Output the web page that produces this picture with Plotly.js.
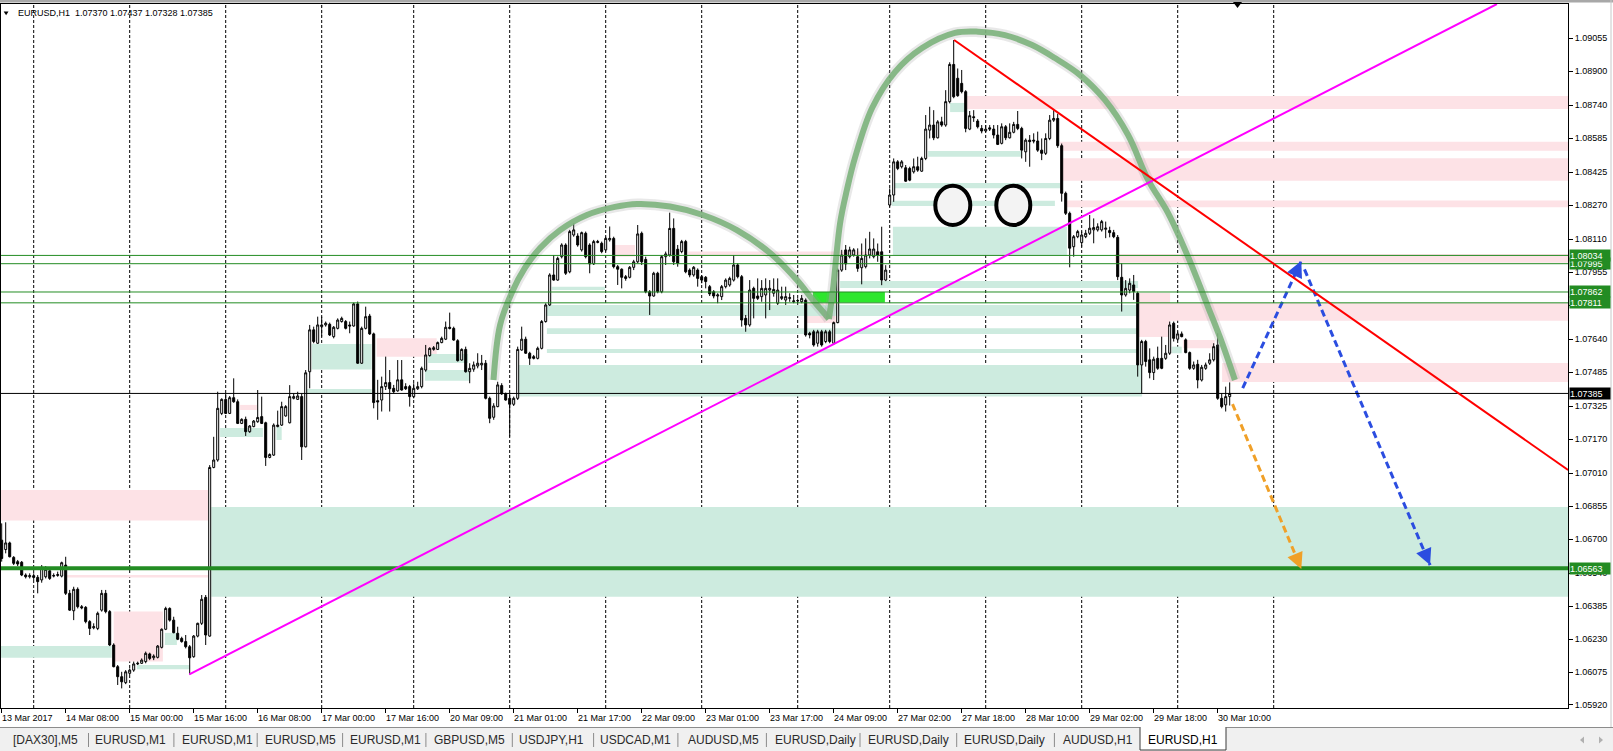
<!DOCTYPE html>
<html><head><meta charset="utf-8">
<script src="https://cdn.plot.ly/plotly-3.0.1.min.js"></script>
<style>html,body{margin:0;padding:0;background:#fff;overflow:hidden}#chart{width:1613px;height:751px}</style>
</head><body><div id="chart"></div>
<script>
// ---------------- DATA (EURUSD, H1) ----------------
const openP = [
1.06695,1.06651,1.06682,1.06614,1.06594,1.06591,1.06531,1.06523,1.06528,1.06520,
1.06508,1.06523,1.06551,1.06526,1.06529,1.06526,1.06578,1.06445,1.06363,1.06464,
1.06382,1.06379,1.06312,1.06283,1.06280,1.06366,1.06445,1.06359,1.06202,1.06100,
1.06053,1.06025,1.06069,1.06084,1.06113,1.06116,1.06124,1.06160,1.06142,1.06144,
1.06191,1.06276,1.06374,1.06319,1.06257,1.06233,1.06218,1.06194,1.06147,1.06244,
1.06304,1.06426,1.06244,1.07037,1.07072,1.07291,1.07357,1.07291,1.07365,1.07346,
1.07244,1.07263,1.07205,1.07229,1.07252,1.07276,1.07247,1.07084,1.07095,1.07229,
1.07236,1.07279,1.07247,1.07362,1.07357,1.07370,1.07134,1.07487,1.07684,1.07621,
1.07699,1.07707,1.07710,1.07652,1.07691,1.07723,1.07723,1.07707,1.07702,1.07806,
1.07527,1.07691,1.07749,1.07665,1.07351,1.07354,1.07417,1.07436,1.07409,1.07397,
1.07449,1.07417,1.07417,1.07370,1.07407,1.07417,1.07495,1.07563,1.07592,1.07592,
1.07624,1.07640,1.07696,1.07691,1.07633,1.07542,1.07592,1.07487,1.07499,1.07514,
1.07519,1.07527,1.07362,1.07273,1.07323,1.07422,1.07383,1.07362,1.07334,1.07362,
1.07589,1.07640,1.07574,1.07558,1.07550,1.07597,1.07723,1.07801,1.07942,1.07918,
1.08028,1.08083,1.07957,1.08130,1.08125,1.08060,1.08138,1.08083,1.07994,1.08099,
1.08091,1.08060,1.08107,1.08114,1.07981,1.07969,1.07934,1.07931,1.07978,1.08004,
1.08138,1.08015,1.07863,1.07843,1.07950,1.07863,1.08028,1.08036,1.08161,1.08063,
1.08052,1.08099,1.07965,1.07942,1.07965,1.07934,1.07931,1.07887,1.07863,1.07843,
1.07840,1.07887,1.07895,1.07918,1.07989,1.07934,1.07738,1.07707,1.07879,1.07843,
1.07840,1.07848,1.07871,1.07856,1.07809,1.07832,1.07824,1.07832,1.07816,1.07820,
1.07816,1.07824,1.07668,1.07675,1.07621,1.07675,1.07629,1.07675,1.07621,1.07718,
1.07965,1.08060,1.08028,1.08036,1.08028,1.07976,1.07981,1.08036,1.08028,1.08051,
1.08051,1.07918,1.08271,1.08318,1.08474,1.08451,1.08446,1.08443,1.08427,1.08451,
1.08430,1.08490,1.08623,1.08647,1.08587,1.08662,1.08647,1.08757,1.08932,1.08867,
1.08843,1.08804,1.08628,1.08686,1.08666,1.08631,1.08619,1.08634,1.08628,1.08600,
1.08561,1.08639,1.08587,1.08613,1.08650,1.08631,1.08521,1.08576,1.08576,1.08572,
1.08529,1.08514,1.08584,1.08670,1.08678,1.08550,1.08326,1.08232,1.08075,1.08122,
1.08094,1.08122,1.08138,1.08154,1.08154,1.08154,1.08157,1.08151,1.08141,1.08119,
1.07931,1.07848,1.07871,1.07895,1.07856,1.07519,1.07629,1.07543,1.07483,1.07550,
1.07550,1.07550,1.07574,1.07715,1.07640,1.07665,1.07637,1.07577,1.07503,1.07522,
1.07448,1.07503,1.07527,1.07543,1.07613,1.07362,1.07331,1.07370];
const highP = [
1.06774,1.06779,1.06688,1.06620,1.06602,1.06597,1.06539,1.06539,1.06539,1.06531,
1.06578,1.06573,1.06558,1.06539,1.06547,1.06594,1.06617,1.06461,1.06476,1.06473,
1.06390,1.06385,1.06319,1.06304,1.06359,1.06461,1.06461,1.06366,1.06210,1.06108,
1.06076,1.06084,1.06092,1.06124,1.06124,1.06139,1.06171,1.06166,1.06158,1.06202,
1.06280,1.06382,1.06379,1.06335,1.06288,1.06241,1.06249,1.06202,1.06249,1.06307,
1.06437,1.06437,1.07048,1.07181,1.07393,1.07362,1.07385,1.07373,1.07456,1.07357,
1.07268,1.07276,1.07236,1.07260,1.07401,1.07370,1.07252,1.07103,1.07244,1.07304,
1.07346,1.07330,1.07424,1.07385,1.07393,1.07385,1.07495,1.07707,1.07699,1.07746,
1.07746,1.07723,1.07718,1.07702,1.07738,1.07746,1.07730,1.07723,1.07812,1.07817,
1.07699,1.07793,1.07759,1.07671,1.07449,1.07464,1.07558,1.07495,1.07425,1.07542,
1.07542,1.07433,1.07425,1.07433,1.07440,1.07511,1.07613,1.07602,1.07608,1.07629,
1.07652,1.07723,1.07765,1.07699,1.07640,1.07597,1.07605,1.07527,1.07535,1.07574,
1.07566,1.07542,1.07370,1.07339,1.07440,1.07433,1.07389,1.07383,1.07370,1.07605,
1.07699,1.07652,1.07581,1.07566,1.07605,1.07730,1.07809,1.07950,1.08036,1.08028,
1.08091,1.08091,1.08154,1.08185,1.08138,1.08146,1.08146,1.08091,1.08107,1.08107,
1.08099,1.08122,1.08170,1.08122,1.07989,1.07973,1.07942,1.07984,1.08013,1.08177,
1.08146,1.08028,1.07871,1.07957,1.07957,1.08036,1.08052,1.08235,1.08208,1.08083,
1.08107,1.08107,1.07973,1.07984,1.07973,1.07942,1.07937,1.07895,1.07871,1.07856,
1.07895,1.07926,1.07934,1.08036,1.07997,1.07942,1.07754,1.07918,1.07887,1.07926,
1.07918,1.07926,1.07918,1.07926,1.07926,1.07887,1.07887,1.07856,1.07848,1.07832,
1.07848,1.07832,1.07675,1.07684,1.07684,1.07684,1.07684,1.07684,1.07723,1.07973,
1.08060,1.08083,1.08075,1.08068,1.08067,1.08090,1.08114,1.08145,1.08114,1.08090,
1.08169,1.07988,1.08349,1.08490,1.08482,1.08482,1.08459,1.08451,1.08490,1.08498,
1.08498,1.08694,1.08733,1.08717,1.08670,1.08686,1.08811,1.08942,1.09047,1.08913,
1.08906,1.08811,1.08713,1.08717,1.08675,1.08647,1.08647,1.08647,1.08647,1.08647,
1.08655,1.08647,1.08655,1.08662,1.08713,1.08639,1.08584,1.08600,1.08608,1.08616,
1.08584,1.08608,1.08694,1.08717,1.08700,1.08560,1.08334,1.08240,1.08130,1.08154,
1.08146,1.08154,1.08224,1.08208,1.08185,1.08201,1.08193,1.08169,1.08154,1.08130,
1.07997,1.07918,1.07926,1.07942,1.07864,1.07637,1.07637,1.07597,1.07558,1.07605,
1.07652,1.07613,1.07723,1.07723,1.07676,1.07676,1.07644,1.07582,1.07535,1.07543,
1.07519,1.07530,1.07574,1.07621,1.07668,1.07386,1.07417,1.07437];
const lowP = [
1.06594,1.06633,1.06614,1.06578,1.06573,1.06526,1.06515,1.06515,1.06508,1.06445,
1.06495,1.06515,1.06508,1.06520,1.06523,1.06520,1.06437,1.06363,1.06319,1.06374,
1.06370,1.06304,1.06249,1.06276,1.06272,1.06359,1.06351,1.06197,1.06097,1.06014,
1.05998,1.06018,1.06061,1.06076,1.06108,1.06113,1.06116,1.06131,1.06131,1.06139,
1.06186,1.06272,1.06312,1.06257,1.06225,1.06213,1.06186,1.06064,1.06142,1.06238,
1.06296,1.06202,1.06241,1.07033,1.07064,1.07283,1.07288,1.07288,1.07341,1.07241,
1.07241,1.07185,1.07200,1.07226,1.07247,1.07241,1.07044,1.07080,1.07091,1.07226,
1.07232,1.07276,1.07244,1.07357,1.07354,1.07072,1.07131,1.07409,1.07621,1.07618,
1.07652,1.07699,1.07655,1.07644,1.07686,1.07718,1.07686,1.07668,1.07699,1.07524,
1.07524,1.07686,1.07660,1.07315,1.07261,1.07300,1.07401,1.07300,1.07385,1.07393,
1.07398,1.07401,1.07323,1.07362,1.07401,1.07409,1.07487,1.07558,1.07586,1.07589,
1.07621,1.07636,1.07686,1.07633,1.07535,1.07539,1.07483,1.07433,1.07487,1.07503,
1.07495,1.07357,1.07245,1.07261,1.07320,1.07378,1.07351,1.07182,1.07326,1.07354,
1.07586,1.07571,1.07519,1.07545,1.07545,1.07592,1.07718,1.07796,1.07915,1.07915,
1.08020,1.07942,1.07950,1.08122,1.08075,1.08052,1.08020,1.07950,1.07989,1.08091,
1.08044,1.08052,1.08099,1.07973,1.07895,1.07879,1.07915,1.07926,1.07965,1.07997,
1.07989,1.07856,1.07754,1.07840,1.07856,1.07856,1.07989,1.08028,1.07989,1.07981,
1.08044,1.07950,1.07931,1.07934,1.07887,1.07903,1.07879,1.07843,1.07832,1.07809,
1.07824,1.07879,1.07887,1.07911,1.07926,1.07699,1.07675,1.07699,1.07738,1.07824,
1.07816,1.07738,1.07777,1.07840,1.07801,1.07824,1.07801,1.07816,1.07809,1.07801,
1.07809,1.07652,1.07644,1.07605,1.07605,1.07605,1.07621,1.07621,1.07613,1.07715,
1.07957,1.07965,1.08020,1.08028,1.07957,1.07898,1.07973,1.08020,1.08020,1.08004,
1.07894,1.07913,1.08263,1.08286,1.08435,1.08443,1.08380,1.08383,1.08419,1.08427,
1.08427,1.08482,1.08584,1.08576,1.08584,1.08639,1.08639,1.08749,1.08773,1.08780,
1.08796,1.08613,1.08623,1.08662,1.08631,1.08608,1.08613,1.08619,1.08584,1.08553,
1.08556,1.08576,1.08584,1.08608,1.08623,1.08490,1.08474,1.08451,1.08561,1.08521,
1.08482,1.08506,1.08576,1.08662,1.08540,1.08287,1.08224,1.07978,1.08028,1.08115,
1.08075,1.08115,1.08130,1.08091,1.08146,1.08146,1.08115,1.08119,1.08115,1.07918,
1.07770,1.07840,1.07856,1.07825,1.07464,1.07386,1.07511,1.07456,1.07448,1.07496,
1.07499,1.07543,1.07566,1.07629,1.07634,1.07649,1.07574,1.07496,1.07496,1.07409,
1.07441,1.07496,1.07519,1.07535,1.07355,1.07315,1.07300,1.07328];
const closeP = [
1.06609,1.06682,1.06617,1.06586,1.06583,1.06531,1.06523,1.06528,1.06520,1.06500,
1.06567,1.06558,1.06515,1.06529,1.06533,1.06589,1.06445,1.06366,1.06464,1.06382,
1.06377,1.06312,1.06280,1.06288,1.06351,1.06445,1.06359,1.06202,1.06100,1.06053,
1.06029,1.06076,1.06084,1.06113,1.06116,1.06131,1.06163,1.06139,1.06150,1.06197,
1.06276,1.06374,1.06319,1.06260,1.06229,1.06218,1.06194,1.06142,1.06244,1.06304,
1.06417,1.06249,1.07037,1.07072,1.07315,1.07357,1.07291,1.07365,1.07346,1.07244,
1.07263,1.07205,1.07232,1.07255,1.07272,1.07244,1.07084,1.07098,1.07236,1.07236,
1.07323,1.07323,1.07370,1.07370,1.07373,1.07134,1.07482,1.07684,1.07629,1.07707,
1.07707,1.07715,1.07660,1.07696,1.07730,1.07738,1.07691,1.07702,1.07806,1.07527,
1.07691,1.07746,1.07665,1.07342,1.07345,1.07417,1.07436,1.07407,1.07393,1.07449,
1.07401,1.07407,1.07370,1.07409,1.07417,1.07503,1.07566,1.07597,1.07600,1.07624,
1.07644,1.07696,1.07691,1.07636,1.07539,1.07592,1.07487,1.07503,1.07519,1.07527,
1.07527,1.07362,1.07268,1.07326,1.07425,1.07383,1.07354,1.07334,1.07362,1.07592,
1.07640,1.07574,1.07550,1.07550,1.07597,1.07723,1.07801,1.07942,1.07918,1.08020,
1.08083,1.07950,1.08146,1.08154,1.08083,1.08141,1.08028,1.07994,1.08099,1.08096,
1.08052,1.08114,1.08114,1.07981,1.07969,1.07931,1.07926,1.07978,1.08004,1.08135,
1.08004,1.07863,1.07843,1.07950,1.07863,1.08028,1.08041,1.08161,1.08004,1.07997,
1.08099,1.07957,1.07942,1.07978,1.07926,1.07918,1.07911,1.07853,1.07843,1.07848,
1.07887,1.07918,1.07926,1.07989,1.07934,1.07730,1.07707,1.07871,1.07832,1.07832,
1.07879,1.07879,1.07879,1.07874,1.07871,1.07840,1.07840,1.07835,1.07820,1.07822,
1.07832,1.07660,1.07660,1.07613,1.07675,1.07613,1.07675,1.07629,1.07718,1.07965,
1.08036,1.07994,1.08060,1.08060,1.07973,1.08020,1.08036,1.08064,1.08064,1.08036,
1.07918,1.07965,1.08318,1.08474,1.08443,1.08474,1.08383,1.08388,1.08451,1.08435,
1.08490,1.08628,1.08647,1.08587,1.08662,1.08647,1.08757,1.08932,1.08780,1.08785,
1.08804,1.08631,1.08691,1.08682,1.08639,1.08619,1.08628,1.08628,1.08600,1.08556,
1.08639,1.08587,1.08613,1.08650,1.08631,1.08529,1.08576,1.08569,1.08572,1.08529,
1.08514,1.08584,1.08670,1.08678,1.08550,1.08326,1.08232,1.08068,1.08122,1.08146,
1.08130,1.08138,1.08162,1.08165,1.08169,1.08193,1.08162,1.08141,1.08122,1.07934,
1.07848,1.07879,1.07903,1.07864,1.07519,1.07629,1.07535,1.07483,1.07546,1.07503,
1.07503,1.07574,1.07707,1.07644,1.07665,1.07652,1.07577,1.07503,1.07519,1.07448,
1.07508,1.07519,1.07543,1.07605,1.07362,1.07323,1.07370,1.07385];

const timeLabels = ["13 Mar 2017","14 Mar 08:00","15 Mar 00:00","15 Mar 16:00","16 Mar 08:00",
  "17 Mar 00:00","17 Mar 16:00","20 Mar 09:00","21 Mar 01:00","21 Mar 17:00","22 Mar 09:00",
  "23 Mar 01:00","23 Mar 17:00","24 Mar 09:00","27 Mar 02:00","27 Mar 18:00","28 Mar 10:00",
  "29 Mar 02:00","29 Mar 18:00","30 Mar 10:00"];
const barsPerLabel = 16;
const daySeparatorBars = [8,32,56,80,103,127,151,175,199,222,246,270,294,318];
const priceTicks = [1.09055,1.08900,1.08740,1.08585,1.08425,1.08270,1.08110,1.07955,1.07800,
  1.07640,1.07485,1.07325,1.07170,1.07010,1.06855,1.06700,1.06540,1.06385,1.06230,1.06075,1.05920];
const headerText = "EURUSD,H1\u00a0\u00a01.07370 1.07437 1.07328 1.07385";

// horizontal levels
const thinGreenLevels = [1.08034, 1.07995, 1.07862, 1.07811];
const supportLevel = 1.06563;
const priceLevel = 1.07385;

// supply / demand zones: [startBar, endBar (null = to the chart edge), lowPrice, highPrice]
const supplyZones = [
  [null,51.6,1.06787,1.06931],[28,40.3,1.06124,1.06359],[16.3,51.6,1.06520,1.06531],
  [59.6,63.8,1.07307,1.07331],[93.75,108.75,1.07558,1.07644],[153.3,158.3,1.08028,1.08083],
  [171.6,219.6,1.08031,1.08052],[201.25,208.75,1.07716,1.07810],[241.3,null,1.08722,1.08784],
  [264.6,null,1.08526,1.08569],[265.1,null,1.08385,1.08491],[266.3,null,1.08260,1.08292],
  [278.3,null,1.08000,1.08041],[284.1,null,1.07727,1.07810],[284.1,292.1,1.07650,1.07857],
  [295.3,303.3,1.07597,1.07636],[305.1,null,1.07439,1.07528]];
const demandZones = [
  [52.4,null,1.06429,1.06851],[null,27.5,1.06142,1.06197],[33.8,47.1,1.06088,1.06108],
  [40.8,43.8,1.06202,1.06259],[54.6,65.3,1.07180,1.07222],[68.7,70,1.07166,1.07228],
  [76.3,92.5,1.07382,1.07406],[77.5,92.5,1.07498,1.07617],[106.6,116.6,1.07528,1.07570],
  [105.8,117.1,1.07445,1.07495],[129,285.1,1.07370,1.07519],[135.8,284.1,1.07749,1.07801],
  [136.3,284.1,1.07664,1.07692],[136.3,284.1,1.07575,1.07594],[137.5,150.8,1.07871,1.07887],
  [209.6,284.1,1.07881,1.07914],[222.8,266.3,1.08036,1.08169],[222.5,263.3,1.08266,1.08291],
  [223.3,264.6,1.08350,1.08375],[231.6,255.1,1.08498,1.08525],[237.1,240.8,1.08708,1.08751],
  [292.5,295,1.07574,1.07605]];
const activeZone = [202.8,220.8,1.07813,1.07862];

// trend lines [bar, price] start -> end
const magentaLine = [[46.9,1.06064],[373.8,1.09216]];
const redLine = [[238.1,1.09047],[391.6,1.07025]];

// hand-drawn arcs (bar, price)
const arc1Bars = [122.95,124.6,127.6,130.8,134.6,139.6,146.3,153.3,158.8,167.1,175.3,183.8,192.1,198.8,202.8,205.6,206.8];
const arc1Prices = [1.07448,1.07707,1.07862,1.07975,1.08069,1.08153,1.08224,1.08262,1.08276,1.08264,1.08224,1.08153,1.08045,1.07918,1.07824,1.07763,1.07735];
const arc2Bars = [206.8,207.8,209.6,211.3,213.3,217.6,223.3,230.1,238.3,244.1,250.8,257.6,263.3,269.6,275.8,281.6,286.6,291.6,296.6,301.6,305.1,308.3];
const arc2Prices = [1.07735,1.07871,1.08186,1.08342,1.08492,1.08727,1.08896,1.09009,1.09080,1.09086,1.09070,1.09023,1.08962,1.08882,1.08765,1.08600,1.08389,1.08233,1.08027,1.07791,1.07622,1.07448];

// eyes [bar0, bar1, price0, price1]
const eyes = [[233.4,242.15,1.08177,1.08362],[248.65,257.15,1.08177,1.08362]];

// projected moves: [[bar, price] start, end]
const blueUp = [[310.25,1.07410],[324.9,1.08008]];
const blueDown = [[325.7,1.07968],[357.1,1.06578]];
const orangeDown = [[307.7,1.07335],[324.9,1.06559]];

// tabs
const tabNames = ["[DAX30],M5","EURUSD,M1","EURUSD,M1","EURUSD,M5","EURUSD,M1","GBPUSD,M5",
  "USDJPY,H1","USDCAD,M1","AUDUSD,M5","EURUSD,Daily","EURUSD,Daily","EURUSD,Daily","AUDUSD,H1"];
const activeTab = "EURUSD,H1";

// ---------------- LAYOUT GEOMETRY ----------------
const W = 1613, H = 751;
const M = {l:1, r:45, t:4, b:43};
const PW = W - M.l - M.r, PH = H - M.t - M.b;
const X = px => (px - M.l) / PW;
const Y = py => (H - M.b - py) / PH;
const xRange = [-0.175, 391.575];
const yRange = [1.059058, 1.092162];
const FONT = "Liberation Sans, Arial, sans-serif";
const PINK = "#fde2e6", MINT = "#cdebdf", GREEN = "#238c23";

const bars = openP.map((_, k) => k);
const labelBars = timeLabels.map((_, k) => k * barsPerLabel);
const edge = (v, side) => v === null ? xRange[side] : v;

const shapes = [];
supplyZones.forEach(z => shapes.push({type:'rect', xref:'x', yref:'y', x0:edge(z[0],0), x1:edge(z[1],1), y0:z[2], y1:z[3], fillcolor:PINK, line:{width:0}, layer:'below'}));
demandZones.forEach(z => shapes.push({type:'rect', xref:'x', yref:'y', x0:edge(z[0],0), x1:edge(z[1],1), y0:z[2], y1:z[3], fillcolor:MINT, line:{width:0}, layer:'below'}));
shapes.push({type:'rect', xref:'x', yref:'y', x0:activeZone[0], x1:activeZone[1], y0:activeZone[2], y1:activeZone[3], fillcolor:'#2de62d', line:{width:0}, layer:'below'});
daySeparatorBars.forEach(b => shapes.push({type:'line', xref:'x', yref:'paper', x0:b, x1:b, y0:0, y1:1, line:{color:'#000', width:1, dash:'3px,2px'}, layer:'below'}));
thinGreenLevels.forEach(p => shapes.push({type:'line', xref:'paper', yref:'y', x0:0, x1:1, y0:p, y1:p, line:{color:GREEN, width:1}}));
shapes.push({type:'line', xref:'paper', yref:'y', x0:0, x1:1, y0:priceLevel, y1:priceLevel, line:{color:'#000', width:1}});
shapes.push({type:'line', xref:'paper', yref:'y', x0:0, x1:1, y0:supportLevel, y1:supportLevel, line:{color:GREEN, width:4}});
[[magentaLine,'#ff00ff'],[redLine,'#ff0000']].forEach(([l,c]) => shapes.push({type:'line', xref:'x', yref:'y', x0:l[0][0], y0:l[0][1], x1:l[1][0], y1:l[1][1], line:{color:c, width:2}}));
eyes.forEach(e => shapes.push({type:'circle', xref:'x', yref:'y', x0:e[0], x1:e[1], y0:e[2], y1:e[3], fillcolor:'#f3f3f3', line:{color:'#000', width:4}}));

// window chrome
shapes.push({type:'rect', xref:'paper', yref:'paper', x0:X(0), x1:X(W), y0:Y(0), y1:Y(2.5), fillcolor:'#a8a8a8', line:{width:0}});
shapes.push({type:'line', xref:'paper', yref:'paper', x0:X(1611), x1:X(1611), y0:Y(0), y1:Y(727.5), line:{color:'#c8c8c8', width:1}});
shapes.push({type:'path', xref:'paper', yref:'paper', path:`M${X(1233)},${Y(2)} L${X(1242)},${Y(2)} L${X(1237.5)},${Y(8)} Z`, fillcolor:'#000', line:{width:0}});
shapes.push({type:'path', xref:'paper', yref:'paper', path:`M${X(3.7)},${Y(11.5)} L${X(8.5)},${Y(11.5)} L${X(6.1)},${Y(15.3)} Z`, fillcolor:'#000', line:{width:0}});
shapes.push({type:'rect', xref:'paper', yref:'paper', x0:X(0), x1:X(W), y0:Y(H), y1:Y(727.5), fillcolor:'#f0f0f0', line:{width:0}});
shapes.push({type:'line', xref:'paper', yref:'paper', x0:X(0), x1:X(W), y0:Y(727.5), y1:Y(727.5), line:{color:'#8c8c8c', width:1}});
shapes.push({type:'rect', xref:'paper', yref:'paper', x0:X(1140), x1:X(1226), y0:Y(750), y1:Y(727.5), fillcolor:'#ffffff', line:{color:'#3a3a3a', width:1}});
shapes.push({type:'line', xref:'paper', yref:'paper', x0:X(1140.5), x1:X(1225.5), y0:Y(727.5), y1:Y(727.5), line:{color:'#ffffff', width:1}});
const tabCenters = [45.3,130.1,217,300.4,385.3,469,551.9,635.7,723.2,815.2,908.3,1004.5,1098.1];
const sepX = [88.5,173.9,257.2,342.6,425.9,512.3,593.6,677.9,766.4,860,956.7,1054.4];
sepX.forEach(s => shapes.push({type:'line', xref:'paper', yref:'paper', x0:X(s), x1:X(s), y0:Y(733), y1:Y(747), line:{color:'#8a8a8a', width:1}}));
shapes.push({type:'path', xref:'paper', yref:'paper', path:`M${X(1584)},${Y(736.5)} L${X(1584)},${Y(743.5)} L${X(1580)},${Y(740)} Z`, fillcolor:'#b0b0b0', line:{width:0}});
shapes.push({type:'path', xref:'paper', yref:'paper', path:`M${X(1599)},${Y(736.5)} L${X(1599)},${Y(743.5)} L${X(1603)},${Y(740)} Z`, fillcolor:'#b0b0b0', line:{width:0}});

// ---------------- ANNOTATIONS ----------------
const annotations = [];
timeLabels.forEach((t, k) => annotations.push({x:labelBars[k], xref:'x', y:0, yref:'paper', xanchor:'left', yanchor:'top', yshift:-3, xshift:-2, text:t, showarrow:false, font:{family:FONT, size:9, color:'#000'}}));
annotations.push({x:X(16), xref:'paper', y:Y(13), yref:'paper', xanchor:'left', yanchor:'middle', text:headerText, showarrow:false, font:{family:FONT, size:9, color:'#000'}});
const levelTags = [[1.07995,GREEN],[1.08034,GREEN],[1.07862,GREEN],[1.07811,GREEN],[supportLevel,GREEN],[priceLevel,'#000']];
levelTags.forEach(([p,c]) => annotations.push({x:1, xref:'paper', y:p, yref:'y', xanchor:'left', yanchor:'middle', xshift:1, text:p.toFixed(5), showarrow:false, bgcolor:c, width:40, height:11, align:'left', borderpad:0, font:{family:FONT, size:9, color:'#fff'}}));
tabNames.forEach((t,k) => annotations.push({x:X(tabCenters[k]), xref:'paper', y:Y(740), yref:'paper', xanchor:'center', yanchor:'middle', text:t, showarrow:false, font:{family:FONT, size:12, color:'#2a2a2a'}}));
annotations.push({x:X(1183), xref:'paper', y:Y(740), yref:'paper', xanchor:'center', yanchor:'middle', text:activeTab, showarrow:false, font:{family:FONT, size:12, color:'#000'}});
// arrow heads
[[blueUp,'#2b4de0',-5,11],[blueDown,'#2b4de0',-4.7,-11],[orangeDown,'#f0a028',-4.6,-11]].forEach(([a,c,ax,ay]) =>
  annotations.push({x:a[1][0], y:a[1][1], xref:'x', yref:'y', ax:ax, ay:ay, showarrow:true, arrowhead:2, arrowsize:1.3, arrowwidth:2.5, arrowcolor:c, text:''}));

// ---------------- TRACES ----------------
const traces = [
  {type:'candlestick', x:bars, open:openP, high:highP, low:lowP, close:closeP,
   increasing:{line:{color:'#000', width:1}, fillcolor:'#ffffff'},
   decreasing:{line:{color:'#000', width:1}, fillcolor:'#000000'},
   whiskerwidth:0, hoverinfo:'none', showlegend:false},
];
[[arc1Bars,arc1Prices],[arc2Bars,arc2Prices]].forEach(([bx,py]) => {
  traces.push({type:'scatter', mode:'lines', x:bx, y:py, line:{color:'rgba(150,150,150,0.22)', width:11, shape:'spline', smoothing:1}, hoverinfo:'none', showlegend:false});
  traces.push({type:'scatter', mode:'lines', x:bx, y:py, line:{color:'rgba(124,178,124,0.9)', width:6, shape:'spline', smoothing:1}, hoverinfo:'none', showlegend:false});
});
[[blueUp,'#2b4de0'],[blueDown,'#2b4de0'],[orangeDown,'#f0a028']].forEach(([a,c]) =>
  traces.push({type:'scatter', mode:'lines', x:[a[0][0],a[1][0]], y:[a[0][1],a[1][1]], line:{color:c, width:3, dash:'7px,4px'}, hoverinfo:'none', showlegend:false}));

const layout = {
  width:W, height:H, margin:{l:M.l, r:M.r, t:M.t, b:M.b, pad:0},
  paper_bgcolor:'#ffffff', plot_bgcolor:'#ffffff', showlegend:false,
  boxgap:0.5, boxgroupgap:0, dragmode:false,
  xaxis:{range:xRange, showgrid:false, zeroline:false, showline:true, mirror:true, linecolor:'#000', linewidth:1,
    ticks:'outside', ticklen:4, tickcolor:'#000', tickvals:labelBars, showticklabels:false,
    rangeslider:{visible:false}, fixedrange:true},
  yaxis:{range:yRange, side:'right', showgrid:false, zeroline:false, showline:true, mirror:true, linecolor:'#000', linewidth:1,
    ticks:'outside', ticklen:4, tickcolor:'#000', tickvals:priceTicks, ticktext:priceTicks.map(v => v.toFixed(5)),
    tickfont:{family:FONT, size:9, color:'#000'}, fixedrange:true},
  shapes:shapes, annotations:annotations
};
Plotly.newPlot('chart', traces, layout, {displayModeBar:false, staticPlot:true});
</script>
</body></html>
